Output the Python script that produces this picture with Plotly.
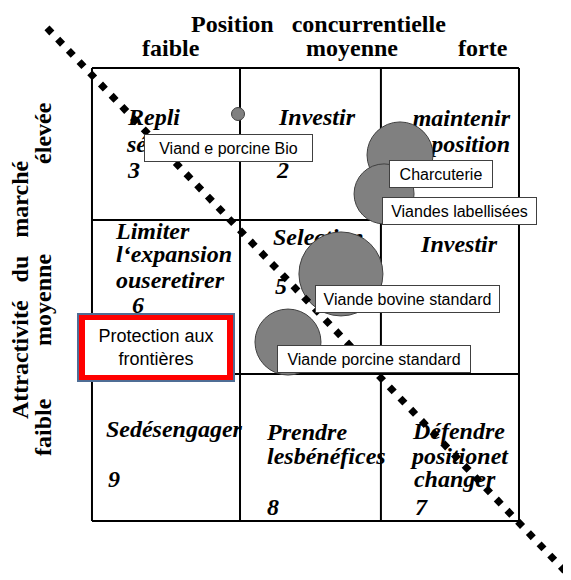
import plotly.graph_objects as go

# matrix frame: cell edges in matrix units (x: position concurrentielle, y: attractivité)
col_edges = [0, 1.04, 2.03, 3]
row_edges = [0, 0.974, 1.993, 3]

# products (bubbles)
products = ["Viand e porcine Bio", "Charcuterie", "Viandes labellisées",
            "Viande bovine standard", "Viande porcine standard"]
prod_pos = [1.026, 2.164, 2.052, 1.749, 1.377]
prod_attr = [2.695, 2.424, 2.166, 1.636, 1.185]
prod_size = [13, 66, 60, 84, 66]

# label boxes for the products
label_x = [0.959, 2.452, 2.582, 2.217, 1.981]
label_y = [2.470, 2.301, 2.053, 1.470, 1.076]
label_w = [167, 102, 153, 183, 192]

# strategy text inside the cells
cell_text = ["Repli", "sélectif", "3", "Investir", "2", "maintenir", "position",
             "Limiter", "l‘expansion", "ouseretirer", "6", "Selection", "5", "Investir",
             "Sedésengager", "9", "Prendre", "lesbénéfices", "8",
             "Défendre", "positionet", "changer", "7"]
cell_x = [0.253, 0.246, 0.253, 1.581, 1.342, 2.937, 2.937,
          0.169, 0.169, 0.169, 0.281, 1.272, 1.286, 2.579,
          0.098, 0.112, 1.230, 1.230, 1.230,
          2.255, 2.248, 2.262, 2.269]
cell_y = [2.662, 2.483, 2.311, 2.662, 2.311, 2.656, 2.483,
          1.907, 1.755, 1.583, 1.417, 1.868, 1.543, 1.821,
          0.596, 0.265, 0.576, 0.417, 0.079,
          0.583, 0.417, 0.265, 0.079]
cell_align = ["middle right", "middle right", "middle right", "middle center", "middle center",
              "middle left", "middle left",
              "middle right", "middle right", "middle right", "middle right", "middle right",
              "middle right", "middle center",
              "middle right", "middle right", "middle right", "middle right", "middle right",
              "middle right", "middle right", "middle right", "middle right"]

# dotted diagonal (ends)
diag_x = [-0.316, 3.323]
diag_y = [3.265, -0.331]

SERIF = "Liberation Serif"
SANS = "Liberation Sans"

fig = go.Figure()

# grid lines
gx, gy = [], []
for c in col_edges:
    gx += [c, c, None]
    gy += [row_edges[0], row_edges[-1], None]
for r in row_edges:
    gx += [col_edges[0], col_edges[-1], None]
    gy += [r, r, None]
fig.add_trace(go.Scatter(x=gx, y=gy, mode="lines", line=dict(color="black", width=2),
                         hoverinfo="skip"))

# cell texts
fig.add_trace(go.Scatter(x=cell_x, y=cell_y, mode="text", text=cell_text,
                         textposition=cell_align,
                         textfont=dict(family=SERIF, size=24, color="black",
                                       weight="bold", style="italic"),
                         hoverinfo="skip"))

# bubbles
fig.add_trace(go.Scatter(x=prod_pos, y=prod_attr, mode="markers",
                         marker=dict(size=prod_size, color="#808080",
                                     line=dict(color="#404040", width=1), opacity=1),
                         text=products, hoverinfo="text"))

# diagonal of diamonds
fig.add_trace(go.Scatter(x=diag_x, y=diag_y, mode="lines",
                         line=dict(color="black", width=7, dash="7px,8.5px"),
                         hoverinfo="skip"))

# product labels
for name, lx, ly, w in zip(products, label_x, label_y, label_w):
    fig.add_annotation(x=lx, y=ly, text=name, showarrow=False,
                       font=dict(family=SANS, size=16, color="black"),
                       bgcolor="white", bordercolor="#404040", borderwidth=1,
                       borderpad=0, width=w, height=26)

# protection box
fig.add_annotation(x=0.450, y=1.149, text=" ", showarrow=False,
                   bgcolor="#FF0000", bordercolor="#4F6D95", borderwidth=2,
                   borderpad=0, width=154, height=65)
fig.add_annotation(x=0.450, y=1.149, text="Protection aux<br>frontières", showarrow=False,
                   font=dict(family=SANS, size=18, color="black"),
                   bgcolor="white", borderwidth=0, borderpad=0, width=142, height=55)

# axis titles
hdr = dict(family=SERIF, size=24, color="black", weight="bold")
fig.add_annotation(x=1.588, y=3.291, text="Position\u00a0\u00a0\u00a0concurrentielle",
                   showarrow=False, font=hdr)
for t, xx in zip(["faible", "moyenne", "forte"], [0.555, 1.827, 2.747]):
    fig.add_annotation(x=xx, y=3.132, text=t, showarrow=False, font=hdr)
fig.add_annotation(x=-0.506, y=1.536, text="Attractivité\u00a0\u00a0\u00a0du\u00a0\u00a0\u00a0marché",
                   showarrow=False, font=hdr, textangle=-90)
for t, yy in zip(["élevée", "moyenne", "faible"], [2.570, 1.464, 0.623]):
    fig.add_annotation(x=-0.344, y=yy, text=t, showarrow=False, font=hdr, textangle=-90)

# page body has an 8px margin, so the figure is 8px smaller and ranges start there
fig.update_xaxes(range=[-0.590, 3.3654], visible=False, fixedrange=True)
fig.update_yaxes(range=[-0.3907, 3.397], visible=False, fixedrange=True)
fig.update_layout(width=563, height=572, margin=dict(l=0, r=0, t=0, b=0),
                  plot_bgcolor="white", paper_bgcolor="white", showlegend=False)

fig.write_html("out.html")
